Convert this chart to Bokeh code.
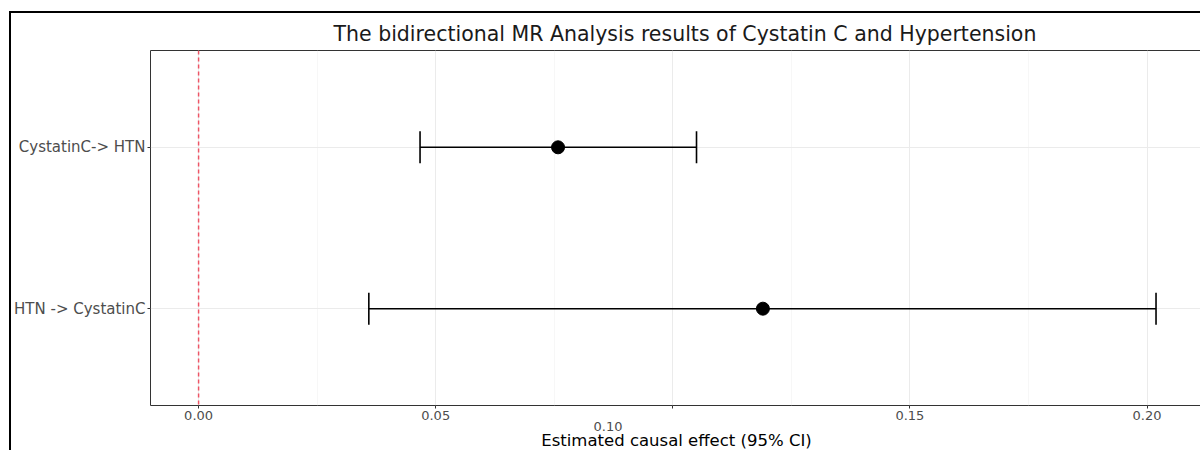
from bokeh.plotting import figure
from bokeh.models import (ColumnDataSource, Whisker, TeeHead, Span, Range1d,
                          FixedTicker, NumeralTickFormatter, Title)
from bokeh.embed import file_html
from bokeh.resources import INLINE

# ---- data ----
exposures = ["CystatinC-> HTN", "HTN -> CystatinC"]
estimate = [0.0758, 0.1190]
ci_lower = [0.0467, 0.0359]
ci_upper = [0.1050, 0.2019]
axis_order = ["HTN -> CystatinC", "CystatinC-> HTN"]   # bottom to top
x_ticks = [0.00, 0.05, 0.10, 0.15, 0.20]
x_minor = [0.025, 0.075, 0.125, 0.175]
title_text = "The bidirectional MR Analysis results of Cystatin C and Hypertension"
x_title = "Estimated causal effect (95% CI)"
displaced_label = "0.10"

ypos = [axis_order.index(e) + 1 for e in exposures]
src = ColumnDataSource(dict(y=ypos, est=estimate, lo=ci_lower, hi=ci_upper))

FONT = "DejaVu Sans"

p = figure(width=1191, height=439, output_backend="svg", toolbar_location=None,
           x_range=Range1d(-0.01014, 0.2117), y_range=Range1d(0.4, 2.6),
           min_border_left=139, min_border_right=0, min_border_top=37,
           min_border_bottom=47, title=title_text)
p.styles = {"border-left": "2px solid black", "border-top": "2px solid black",
            "margin-left": "9px", "margin-top": "11px"}

p.title.align = "left"
p.title.offset = 183
p.title.standoff = 9
p.title.text_font = FONT
p.title.text_font_size = "20.5px"
p.title.text_font_style = "normal"
p.title.text_color = "#1a1a1a"

p.outline_line_color = "#333333"
p.outline_line_width = 1
p.background_fill_color = "white"
p.border_fill_color = "white"

# grids
p.xgrid.ticker = FixedTicker(ticks=x_ticks, minor_ticks=x_minor)
p.xaxis.ticker = FixedTicker(ticks=x_ticks, minor_ticks=x_minor)
p.xgrid.grid_line_color = "#ebebeb"
p.xgrid.grid_line_width = 1
p.xgrid.minor_grid_line_color = "#f2f2f2"
p.xgrid.minor_grid_line_width = 0.6
p.yaxis.ticker = FixedTicker(ticks=sorted(set(ypos)), minor_ticks=[])
p.ygrid.ticker = FixedTicker(ticks=sorted(set(ypos)), minor_ticks=[])
p.ygrid.grid_line_color = "#ebebeb"

# axes
for ax in (p.xaxis, p.yaxis):
    ax.axis_line_color = None
    ax.major_tick_line_color = "#333333"
    ax.major_tick_in = 0
    ax.major_tick_out = 3
    ax.minor_tick_line_color = None
    ax.major_label_text_font = FONT
    ax.major_label_text_color = "#4d4d4d"
p.xaxis.major_label_text_font_size = "13px"
p.yaxis.major_label_text_font_size = "15px"
p.xaxis.major_label_standoff = 1
p.yaxis.major_label_standoff = 2

p.xaxis.formatter = NumeralTickFormatter(format="0.00")
p.xaxis.major_label_overrides = {0.1: ""}
p.yaxis.major_label_overrides = {i + 1: name for i, name in enumerate(axis_order)}

# displaced 0.10 tick label, then the axis title, stacked below the axis
t1 = Title(text=displaced_label, align="left", offset=443, standoff=-5,
           text_font=FONT, text_font_size="13px", text_font_style="normal",
           text_color="#4d4d4d")
p.add_layout(t1, "below")
t2 = Title(text=x_title, align="center", standoff=0,
           text_font=FONT, text_font_size="16.5px", text_font_style="normal",
           text_color="#000000")
p.add_layout(t2, "below")

# reference line at 0
p.add_layout(Span(location=0, dimension="height", line_color="#ee5566",
                  line_dash="4 3", line_width=1.5))

# error bars
w = Whisker(source=src, base="y", lower="lo", upper="hi", dimension="width",
            line_color="black", line_width=1.6,
            upper_head=TeeHead(size=32, line_color="black", line_width=1.6),
            lower_head=TeeHead(size=32, line_color="black", line_width=1.6))
p.add_layout(w)

p.scatter(x="est", y="y", source=src, size=13, color="black")

open("out.html", "w").write(file_html(p, INLINE))
